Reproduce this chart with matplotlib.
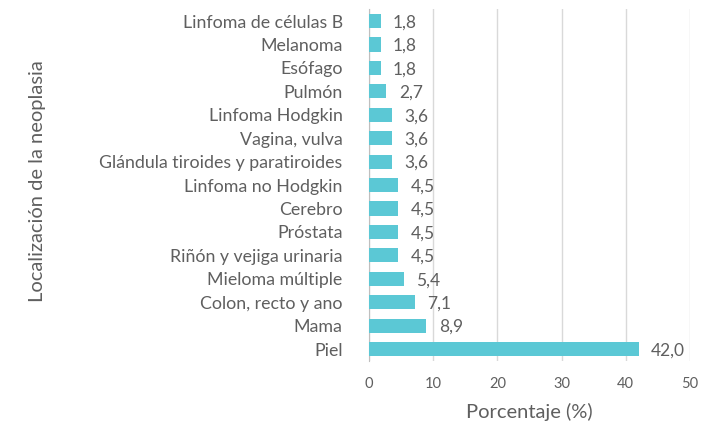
import matplotlib.pyplot as plt

# Data (top to bottom as shown in the chart)
categories = [
    "Linfoma de células B", "Melanoma", "Esófago", "Pulmón", "Linfoma Hodgkin",
    "Vagina, vulva", "Glándula tiroides y paratiroides", "Linfoma no Hodgkin",
    "Cerebro", "Próstata", "Riñón y vejiga urinaria", "Mieloma múltiple",
    "Colon, recto y ano", "Mama", "Piel",
]
values = [1.8, 1.8, 1.8, 2.7, 3.6, 3.6, 3.6, 4.5, 4.5, 4.5, 4.5, 5.4, 7.1, 8.9, 42.0]
xticks = [0, 10, 20, 30, 40, 50]

plt.rcParams['font.family'] = ['Lato', 'DejaVu Sans']
text_color = '#5f5f5f'
bar_color = '#5BC8D5'

fig = plt.figure(figsize=(7.09, 4.25), dpi=100)
ax = fig.add_axes([0.5205, 0.151, 0.4527, 0.827])

# Reverse so the first category sits on top
ypos = list(range(len(categories)))[::-1]
ax.barh(ypos, values, height=0.6, color=bar_color, zorder=3)

for y, v in zip(ypos, values):
    ax.annotate(f"{v:.1f}".replace('.', ','), xy=(v, y), xytext=(9, -1),
                textcoords='offset points', ha='left', va='center',
                fontsize=12.5, color=text_color)

ax.set_ylim(-0.5, len(categories) - 0.5)
ax.set_xlim(0, 50)
ax.set_yticks(ypos)
ax.set_yticklabels(categories, fontsize=12.8, color=text_color)
ax.set_xticks(xticks)
ax.set_xticklabels([str(t) for t in xticks], fontsize=10.5, color=text_color)
ax.tick_params(axis='both', length=0)
ax.tick_params(axis='y', pad=19)
ax.tick_params(axis='x', pad=12)

ax.grid(axis='x', color='#d9d9d9', linewidth=1, zorder=0)
for side in ['top', 'right', 'bottom']:
    ax.spines[side].set_visible(False)
ax.spines['left'].set_color('#bfbfbf')

ax.set_xlabel("Porcentaje (%)", fontsize=14.5, color=text_color, labelpad=8)
ax.set_ylabel("Localización de la neoplasia", fontsize=14.5, color=text_color)
ax.yaxis.set_label_coords(-1.006, 0.51)

fig.savefig('out.png', dpi=100)
